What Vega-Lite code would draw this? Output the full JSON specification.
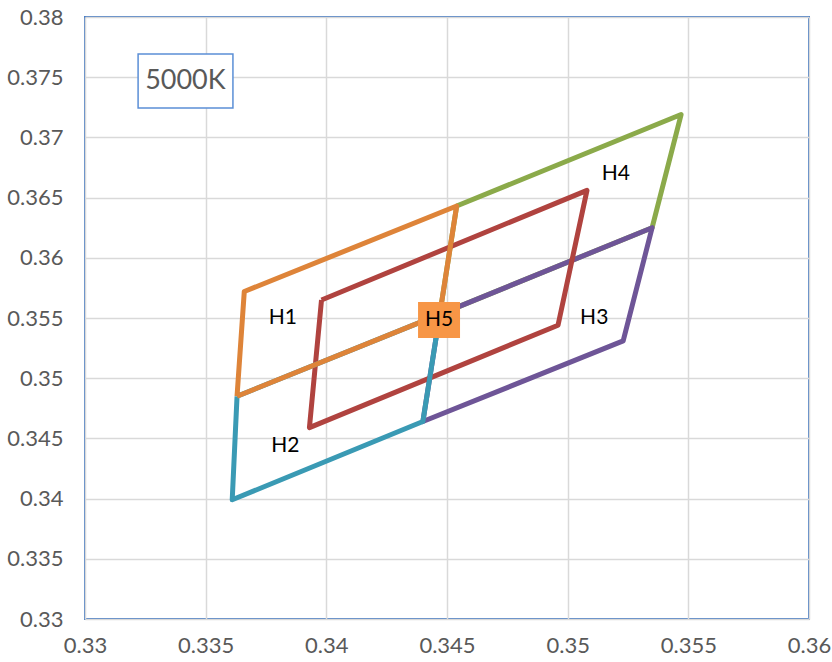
{
  "$schema": "https://vega.github.io/schema/vega-lite/v6.json",
  "width": 724,
  "height": 602,
  "autosize": {"type": "none"},
  "padding": {"left": 85, "top": 17, "right": 23, "bottom": 43},
  "background": "white",
  "config": {
    "font": "Lato",
    "view": {"stroke": "#4A7EC4", "strokeWidth": 2},
    "axis": {
      "grid": true,
      "gridColor": "#D9D9D9",
      "gridWidth": 1.5,
      "domain": false,
      "ticks": false,
      "labelFont": "Lato",
      "labelFontSize": 22,
      "labelColor": "#595959",
      "labelFlush": false,
      "labelOverlap": false,
      "title": null
    }
  },
  "datasets": {
    "poly": [
      {"s": "H4", "i": 0, "x": 0.3454, "y": 0.3643},
      {"s": "H4", "i": 1, "x": 0.3547, "y": 0.3719},
      {"s": "H4", "i": 2, "x": 0.3535, "y": 0.3625},
      {"s": "H4", "i": 3, "x": 0.3447, "y": 0.3553},
      {"s": "H4", "i": 4, "x": 0.3454, "y": 0.3643},
      {"s": "H3", "i": 0, "x": 0.3447, "y": 0.3553},
      {"s": "H3", "i": 1, "x": 0.3535, "y": 0.3625},
      {"s": "H3", "i": 2, "x": 0.3523, "y": 0.3531},
      {"s": "H3", "i": 3, "x": 0.3440, "y": 0.3464},
      {"s": "H3", "i": 4, "x": 0.3447, "y": 0.3553},
      {"s": "H5", "i": 0, "x": 0.3398, "y": 0.3565},
      {"s": "H5", "i": 1, "x": 0.3508, "y": 0.3656},
      {"s": "H5", "i": 2, "x": 0.3496, "y": 0.3544},
      {"s": "H5", "i": 3, "x": 0.3393, "y": 0.3459},
      {"s": "H5", "i": 4, "x": 0.3398, "y": 0.3565},
      {"s": "H2", "i": 0, "x": 0.3363, "y": 0.3485},
      {"s": "H2", "i": 1, "x": 0.3361, "y": 0.3399},
      {"s": "H2", "i": 2, "x": 0.3440, "y": 0.3464},
      {"s": "H2", "i": 3, "x": 0.3447, "y": 0.3553},
      {"s": "H2", "i": 4, "x": 0.3363, "y": 0.3485},
      {"s": "H1", "i": 0, "x": 0.3363, "y": 0.3485},
      {"s": "H1", "i": 1, "x": 0.3366, "y": 0.3572},
      {"s": "H1", "i": 2, "x": 0.3454, "y": 0.3643},
      {"s": "H1", "i": 3, "x": 0.3447, "y": 0.3553},
      {"s": "H1", "i": 4, "x": 0.3363, "y": 0.3485}
    ],
    "labels": [
      {"t": "H1", "x": 0.3382, "y": 0.3550},
      {"t": "H2", "x": 0.3383, "y": 0.3444},
      {"t": "H3", "x": 0.3511, "y": 0.3550},
      {"t": "H4", "x": 0.3520, "y": 0.3670}
    ],
    "boxes": [
      {"k": "H5", "x": 0.3438, "x2": 0.34554, "y": 0.35633, "y2": 0.35334, "tx": 0.34467, "ty": 0.35483},
      {"k": "5000K", "x": 0.3322, "x2": 0.33613, "y": 0.37693, "y2": 0.37244, "tx": 0.33416, "ty": 0.37468}
    ]
  },
  "layer": [
    {
      "data": {"name": "poly"},
      "transform": [{"filter": "datum.s === 'H4'"}],
      "mark": {"type": "line", "color": "#8BAA4A", "strokeWidth": 5, "strokeJoin": "round"},
      "encoding": {
        "x": {"field": "x", "type": "quantitative", "scale": {"domain": [0.33, 0.36], "nice": false, "zero": false},
              "axis": {"values": [0.33, 0.335, 0.34, 0.345, 0.35, 0.355, 0.36], "format": ".3~f", "labelPadding": 16}},
        "y": {"field": "y", "type": "quantitative", "scale": {"domain": [0.33, 0.38], "nice": false, "zero": false},
              "axis": {"values": [0.33, 0.335, 0.34, 0.345, 0.35, 0.355, 0.36, 0.365, 0.37, 0.375, 0.38], "format": ".3~f", "labelPadding": 22}},
        "order": {"field": "i", "type": "quantitative"}
      }
    },
    {
      "data": {"name": "poly"},
      "transform": [{"filter": "datum.s === 'H3'"}],
      "mark": {"type": "line", "color": "#6E5597", "strokeWidth": 5, "strokeJoin": "round"},
      "encoding": {
        "x": {"field": "x", "type": "quantitative"},
        "y": {"field": "y", "type": "quantitative"},
        "order": {"field": "i", "type": "quantitative"}
      }
    },
    {
      "data": {"name": "poly"},
      "transform": [{"filter": "datum.s === 'H5'"}],
      "mark": {"type": "line", "color": "#B0433F", "strokeWidth": 5, "strokeJoin": "round"},
      "encoding": {
        "x": {"field": "x", "type": "quantitative"},
        "y": {"field": "y", "type": "quantitative"},
        "order": {"field": "i", "type": "quantitative"}
      }
    },
    {
      "data": {"name": "poly"},
      "transform": [{"filter": "datum.s === 'H2'"}],
      "mark": {"type": "line", "color": "#3A9AB4", "strokeWidth": 5, "strokeJoin": "round"},
      "encoding": {
        "x": {"field": "x", "type": "quantitative"},
        "y": {"field": "y", "type": "quantitative"},
        "order": {"field": "i", "type": "quantitative"}
      }
    },
    {
      "data": {"name": "poly"},
      "transform": [{"filter": "datum.s === 'H1'"}],
      "mark": {"type": "line", "color": "#DE8439", "strokeWidth": 5, "strokeJoin": "round"},
      "encoding": {
        "x": {"field": "x", "type": "quantitative"},
        "y": {"field": "y", "type": "quantitative"},
        "order": {"field": "i", "type": "quantitative"}
      }
    },
    {
      "data": {"name": "labels"},
      "mark": {"type": "text", "fontSize": 21, "color": "#000000", "align": "center", "baseline": "middle", "font": "Lato"},
      "encoding": {
        "x": {"field": "x", "type": "quantitative"},
        "y": {"field": "y", "type": "quantitative"},
        "text": {"field": "t"}
      }
    },
    {
      "data": {"name": "boxes"},
      "transform": [{"filter": "datum.k === 'H5'"}],
      "mark": {"type": "rect", "fill": "#F79646", "stroke": null},
      "encoding": {
        "x": {"field": "x", "type": "quantitative"},
        "x2": {"field": "x2"},
        "y": {"field": "y", "type": "quantitative"},
        "y2": {"field": "y2"}
      }
    },
    {
      "data": {"name": "boxes"},
      "transform": [{"filter": "datum.k === '5000K'"}],
      "mark": {"type": "rect", "fill": "white", "stroke": "#5B8FD6", "strokeWidth": 1.5},
      "encoding": {
        "x": {"field": "x", "type": "quantitative"},
        "x2": {"field": "x2"},
        "y": {"field": "y", "type": "quantitative"},
        "y2": {"field": "y2"}
      }
    },
    {
      "data": {"name": "boxes"},
      "transform": [{"filter": "datum.k === 'H5'"}],
      "mark": {"type": "text", "fontSize": 21, "color": "#000000", "align": "center", "baseline": "middle", "font": "Lato"},
      "encoding": {
        "x": {"field": "tx", "type": "quantitative"},
        "y": {"field": "ty", "type": "quantitative"},
        "text": {"field": "k"}
      }
    },
    {
      "data": {"name": "boxes"},
      "transform": [{"filter": "datum.k === '5000K'"}],
      "mark": {"type": "text", "fontSize": 27, "color": "#595959", "align": "center", "baseline": "middle", "font": "Lato"},
      "encoding": {
        "x": {"field": "tx", "type": "quantitative"},
        "y": {"field": "ty", "type": "quantitative"},
        "text": {"field": "k"}
      }
    }
  ]
}
